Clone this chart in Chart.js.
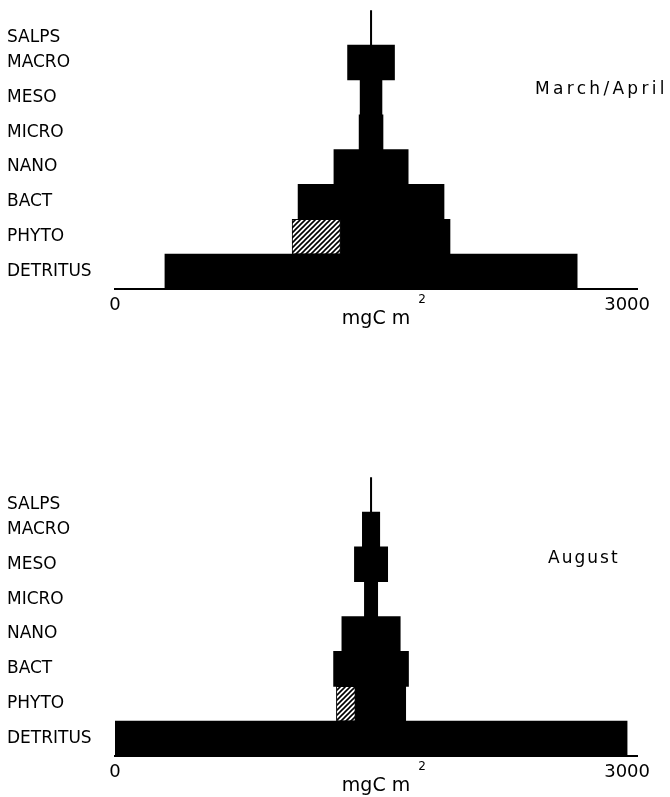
<!DOCTYPE html>
<html>
<head>
<meta charset="utf-8">
<title>Biomass pyramids</title>
<script src="https://cdn.jsdelivr.net/npm/chart.js@4.4.1/dist/chart.umd.min.js"></script>
<style>
  html, body { margin: 0; padding: 0; background: #fff; }
  body { position: relative; width: 670px; height: 797px; overflow: hidden; }
  canvas { position: absolute; left: 0; }
  #springChart { top: 0; }
  #summerChart { top: 467px; }
</style>
</head>
<body>
<canvas id="springChart" width="670" height="330"></canvas>
<canvas id="summerChart" width="670" height="330"></canvas>
<script>
// Compartments, top of the pyramid first
const groups = ['SALPS', 'MACRO', 'MESO', 'MICRO', 'NANO', 'BACT', 'PHYTO', 'DETRITUS'];

// Carbon biomass per compartment, mgC m-2
const marchApril = [8, 275, 128, 140, 435, 855, 925, 2415];
const august     = [8, 102, 195, 78, 342, 439, 406, 3000];

// Part of the PHYTO bar shown hatched (left side of the bar)
const marchAprilPhytoHatched = 283;
const augustPhytoHatched     = 111;

const periods   = ['March/April', 'August'];
const axisTicks = [0, 3000];
const axisTitle = 'mgC m';
const axisTitleSup = '2';
const centre = 1500;   // bars are centred on this value

const FONT = '"DejaVu Sans", "Liberation Sans", sans-serif';

// Each bar is symmetric about the centre line
function solidBars(values, hatched) {
  return values.map((v, i) => {
    let lo = centre - v / 2;
    const hi = centre + v / 2;
    if (groups[i] === 'PHYTO') lo += hatched;
    return [lo, hi];
  });
}
function hatchedBars(values, hatched) {
  return values.map((v, i) =>
    groups[i] === 'PHYTO' ? [centre - v / 2, centre - v / 2 + hatched] : null);
}

function hatchPattern(ctx) {
  const s = 5;
  const c = document.createElement('canvas');
  c.width = s; c.height = s;
  const g = c.getContext('2d');
  g.fillStyle = '#fff';
  g.fillRect(0, 0, s, s);
  g.strokeStyle = '#000';
  g.lineWidth = 1.6;
  g.beginPath();
  g.moveTo(-1, s + 1); g.lineTo(s + 1, -1);
  g.moveTo(-1, 1); g.lineTo(1, -1);
  g.moveTo(s - 1, s + 1); g.lineTo(s + 1, s - 1);
  g.stroke();
  return ctx.createPattern(c, 'repeat');
}

// Period caption and the exponent of the axis unit
const captions = {
  id: 'captions',
  afterDraw(chart, args, opts) {
    const { ctx, chartArea, scales: { x, y } } = chart;
    ctx.save();
    ctx.fillStyle = '#000';
    ctx.textBaseline = 'middle';
    ctx.textAlign = 'left';
    ctx.font = '17px ' + FONT;
    if ('letterSpacing' in ctx) ctx.letterSpacing = opts.spacing + 'px';
    ctx.fillText(opts.period, x.getPixelForValue(opts.periodAt),
                 y.getPixelForValue(opts.periodRow) + opts.periodShift);
    if ('letterSpacing' in ctx) ctx.letterSpacing = '0px';
    ctx.font = '19px ' + FONT;
    const w = ctx.measureText(axisTitle).width;
    const cx = (chartArea.left + chartArea.right) / 2;
    ctx.font = '12px ' + FONT;
    ctx.fillText(axisTitleSup, cx + w / 2 + 8, chartArea.bottom + 11);
    ctx.restore();
  }
};

function buildChart(id, values, hatched, period, periodAt, periodShift, spacing) {
  const canvas = document.getElementById(id);
  const ctx = canvas.getContext('2d');
  return new Chart(ctx, {
    type: 'bar',
    data: {
      labels: groups,
      datasets: [
        {
          data: solidBars(values, hatched),
          backgroundColor: '#000',
          borderWidth: 0,
          grouped: false,
          barPercentage: 1,
          categoryPercentage: 1
        },
        {
          data: hatchedBars(values, hatched),
          backgroundColor: hatchPattern(ctx),
          borderColor: '#000',
          borderWidth: 1,
          borderSkipped: false,
          grouped: false,
          barPercentage: 1,
          categoryPercentage: 1
        }
      ]
    },
    options: {
      indexAxis: 'y',
      responsive: false,
      animation: false,
      devicePixelRatio: 1,
      layout: { padding: { top: 9, left: 7, right: 33, bottom: 0 } },
      plugins: {
        legend: { display: false },
        tooltip: { enabled: false },
        captions: { period, periodAt, periodRow: 2, periodShift, spacing }
      },
      scales: {
        x: {
          type: 'linear',
          min: 0,
          max: 3058,   // the axis line runs a little past the last tick
          afterBuildTicks: s => { s.ticks = axisTicks.map(v => ({ value: v })); },
          afterFit: s => { s.height = 41; },
          grid: { display: false, drawTicks: false },
          border: { display: true, color: '#000', width: 2 },
          ticks: {
            color: '#000',
            font: { family: FONT, size: 18 },
            padding: 6,
            maxRotation: 0,
            autoSkip: false,
            callback: v => String(v)
          },
          title: {
            display: true,
            text: axisTitle,
            align: 'center',
            color: '#000',
            font: { family: FONT, size: 19 },
            padding: { top: 0, bottom: 0 }
          }
        },
        y: {
          afterFit: s => { s.width = 108; },
          grid: { display: false },
          border: { display: false },
          ticks: {
            crossAlign: 'far',
            color: '#000',
            font: { family: FONT, size: 17 },
            padding: 0,
            autoSkip: false,
            // the top label sits low in its row, under the salps line
            callback: (v, i) => (i === 0 ? ['', groups[i]] : groups[i])
          }
        }
      }
    },
    plugins: [captions]
  });
}

buildChart('springChart', marchApril, marchAprilPhytoHatched, periods[0], 2461, -8, 3.3);
buildChart('summerChart', august, augustPhytoHatched, periods[1], 2537, -6, 2);
</script>
</body>
</html>
